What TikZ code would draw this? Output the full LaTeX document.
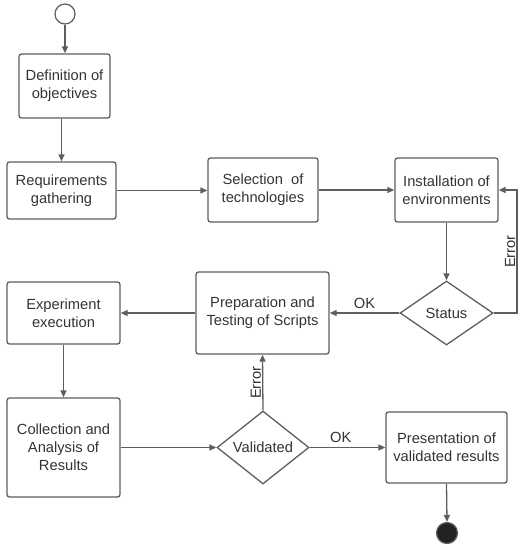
\documentclass[tikz,border=0pt]{standalone}
\usepackage{fontspec}
\setmainfont{Liberation Sans}
\usetikzlibrary{arrows.meta,shapes.geometric}
\definecolor{linec}{HTML}{5E5E5E}
\definecolor{textc}{HTML}{333333}
\definecolor{endc}{HTML}{222222}
\begin{document}
\begin{tikzpicture}[x=1pt,y=-1pt,
  font=\fontsize{14.7}{18}\selectfont,
  stepbox/.style={draw=linec,line width=1.3pt,rounded corners=2.5pt,align=center,text=textc,inner sep=2pt},
  decision/.style={draw=linec,line width=1.3pt,diamond,inner sep=0pt,text=textc},
  flow/.style={draw=linec,line width=1.3pt,-{Triangle[length=7pt,width=6pt]}},
  lbl/.style={text=textc,inner sep=1pt}]
\useasboundingbox (0,0) rectangle (527,550);
\node[circle,draw=linec,line width=1.2pt,minimum size=20pt,inner sep=0pt] (start) at (65,14) {};
\node[stepbox,minimum width=91pt,minimum height=64pt] (def) at (64.5,86) {Definition of\\objectives};
\node[stepbox,minimum width=109pt,minimum height=57pt] (req) at (61.5,190.5) {Requirements\\gathering};
\node[stepbox,minimum width=110pt,minimum height=64pt] (sel) at (263,190) {Selection\ \ of\\technologies};
\node[stepbox,minimum width=103pt,minimum height=64pt] (inst) at (446.5,190) {Installation of\\environments};
\node[decision,minimum width=93pt,minimum height=64pt] (status) at (446.5,313) {Status};
\node[stepbox,minimum width=133pt,minimum height=82pt] (prep) at (262.5,313) {Preparation and\\Testing of Scripts};
\node[stepbox,minimum width=113pt,minimum height=62pt] (exp) at (63.5,313) {Experiment\\execution};
\node[stepbox,minimum width=113pt,minimum height=99pt] (coll) at (63.5,447.5) {Collection and\\Analysis of\\Results};
\node[decision,minimum width=92pt,minimum height=73pt] (valid) at (263,447.5) {Validated};
\node[stepbox,minimum width=121pt,minimum height=71pt] (pres) at (446.5,447.5) {Presentation of\\validated results};
\node[circle,draw=linec,line width=1.2pt,fill=endc,minimum size=21pt,inner sep=0pt] (end) at (447,533) {};
\coordinate (loop) at (517,313);
\draw[flow] (start.south) -- (start.south |- def.north);
\draw[flow] (def.south -| req.north) -- (req.north);
\draw[flow] (req.east) -- (sel.west |- req.east);
\draw[flow] (sel.east) -- (inst.west);
\draw[flow] (inst.south) -- (status.north);
\draw[flow] (status.east) -- (loop) |- (inst.east) node[pos=0.25,lbl,rotate=90,above] {Error};
\draw[flow] (status.west) -- (prep.east) node[pos=0.5,lbl,above,yshift=3pt] {OK};
\draw[flow] (prep.west) -- (exp.east);
\draw[flow] (exp.south) -- (coll.north);
\draw[flow] (coll.east) -- (valid.west);
\draw[flow] (valid.north) -- (prep.south) node[midway,lbl,rotate=90,above] {Error};
\draw[flow] (valid.east) -- (pres.west) node[pos=0.41,lbl,above,yshift=3pt] {OK};
\draw[flow] (pres.south) -- (end.north);
\end{tikzpicture}
\end{document}
